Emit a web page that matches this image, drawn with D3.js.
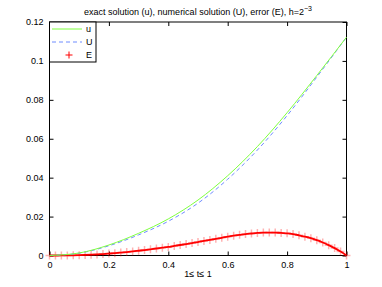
<!DOCTYPE html>
<html>
<head>
<meta charset="utf-8">
<script src="https://cdn.jsdelivr.net/npm/d3@7"></script>
<style>
  body { margin: 0; background: #fff; }
  text { font-family: "Liberation Sans", Arial, sans-serif; font-size: 9px; fill: #000; }
</style>
</head>
<body>
<div id="chart"></div>
<script>
// exact solution u, numerical solution U
const tGrid = [0, 0.1, 0.2, 0.3, 0.4, 0.5, 0.6, 0.7, 0.8, 0.9, 1.0];
const uVals = [0, 0.0013, 0.0054, 0.0114, 0.0188, 0.0285, 0.0410, 0.0560, 0.0734, 0.0925, 0.1122];
const UVals = [0, 0.0012, 0.0050, 0.0106, 0.0176, 0.0269, 0.0392, 0.0542, 0.0719, 0.0917, 0.1122];

// error E, sampled finer
const tErr = [0, 0.02, 0.04, 0.06, 0.08, 0.10, 0.12, 0.14, 0.16, 0.18, 0.20, 0.22, 0.24, 0.26, 0.28,
  0.30, 0.32, 0.34, 0.36, 0.38, 0.40, 0.42, 0.44, 0.46, 0.48, 0.50, 0.52, 0.54, 0.56, 0.58,
  0.60, 0.62, 0.64, 0.66, 0.68, 0.70, 0.72, 0.74, 0.76, 0.78, 0.80, 0.82, 0.84, 0.86, 0.88,
  0.90, 0.92, 0.94, 0.96, 0.98, 1.00];
const eVals = [0, 0.00001, 0.00002, 0.00005, 0.0001, 0.00018, 0.00028, 0.0004, 0.00055, 0.00075,
  0.00097, 0.0012, 0.00148, 0.00178, 0.0021, 0.00245, 0.0028, 0.0032, 0.0036, 0.0040,
  0.0044, 0.0049, 0.0054, 0.0059, 0.0064, 0.0069, 0.0075, 0.0080, 0.0086, 0.0091,
  0.0097, 0.0102, 0.0106, 0.0110, 0.0113, 0.0116, 0.0118, 0.0118, 0.0118, 0.0116,
  0.0114, 0.0110, 0.0104, 0.0097, 0.0089, 0.0079, 0.0067, 0.0053, 0.0038, 0.0020, 0];

const xTicks = [0, 0.2, 0.4, 0.6, 0.8, 1];
const yTicks = [0, 0.02, 0.04, 0.06, 0.08, 0.1, 0.12];
const legendLabels = ["u", "U", "E"];

const width = 382, height = 287;
const mLeft = 49.5, mRight = 346.5, mTop = 22, mBottom = 255.5;

const svg = d3.select("#chart").append("svg")
  .attr("width", width)
  .attr("height", height);

const x = d3.scaleLinear().domain([0, 1]).range([mLeft, mRight]);
const y = d3.scaleLinear().domain([0, 0.12]).range([mBottom, mTop]);

// ticks (inward, on all four sides)
svg.append("g").attr("transform", `translate(0,${mBottom})`)
  .call(d3.axisBottom(x).tickValues(xTicks).tickSize(-4).tickPadding(6).tickFormat(d3.format("")))
  .call(g => g.select(".domain").remove());
svg.append("g").attr("transform", `translate(0,${mTop})`)
  .call(d3.axisTop(x).tickValues(xTicks).tickSize(-4).tickFormat(""))
  .call(g => g.select(".domain").remove());
svg.append("g").attr("transform", `translate(${mLeft},0)`)
  .call(d3.axisLeft(y).tickValues(yTicks).tickSize(-4).tickPadding(6).tickFormat(d3.format("")))
  .call(g => g.select(".domain").remove());
svg.append("g").attr("transform", `translate(${mRight},0)`)
  .call(d3.axisRight(y).tickValues(yTicks).tickSize(-4).tickFormat(""))
  .call(g => g.select(".domain").remove());
svg.selectAll(".tick line").attr("stroke", "#000");
svg.selectAll(".tick text").style("font-size", "9px").attr("font-family", null);

// frame
svg.append("rect")
  .attr("x", mLeft).attr("y", mTop)
  .attr("width", mRight - mLeft).attr("height", mBottom - mTop)
  .attr("fill", "none").attr("stroke", "#000").attr("stroke-width", 1);

const line = d3.line()
  .x(d => x(d[0]))
  .y(d => y(d[1]))
  .curve(d3.curveMonotoneX);

// error E: markers + line
const errPts = tErr.map((t, i) => [t, eVals[i]]);
svg.append("g").selectAll("path.mk")
  .data(errPts)
  .join("path")
  .attr("class", "mk")
  .attr("d", "M-4,0H4M0,-4V4")
  .attr("transform", d => `translate(${x(d[0])},${y(d[1])})`)
  .attr("stroke", "#ff0000")
  .attr("stroke-opacity", 0.3)
  .attr("stroke-width", 1.5)
  .attr("fill", "none");

svg.append("path")
  .datum(errPts)
  .attr("d", line)
  .attr("fill", "none")
  .attr("stroke", "#ff0000")
  .attr("stroke-width", 1.8);

// U dashed
svg.append("path")
  .datum(tGrid.map((t, i) => [t, UVals[i]]))
  .attr("d", line)
  .attr("fill", "none")
  .attr("stroke", "#6f8cff")
  .attr("stroke-width", 1)
  .attr("stroke-dasharray", "4,3");

// u solid
svg.append("path")
  .datum(tGrid.map((t, i) => [t, uVals[i]]))
  .attr("d", line)
  .attr("fill", "none")
  .attr("stroke", "#7fff3f")
  .attr("stroke-width", 1);

// legend
const lg = svg.append("g");
lg.append("rect")
  .attr("x", mLeft).attr("y", mTop)
  .attr("width", 46.5).attr("height", 40)
  .attr("fill", "#fff").attr("stroke", "#000").attr("stroke-width", 1);
const rows = [29, 42, 55];
lg.append("line").attr("x1", 52).attr("x2", 82).attr("y1", rows[0]).attr("y2", rows[0])
  .attr("stroke", "#7fff3f");
lg.append("line").attr("x1", 52).attr("x2", 82).attr("y1", rows[1]).attr("y2", rows[1])
  .attr("stroke", "#6f8cff").attr("stroke-dasharray", "4,3");
lg.append("path").attr("d", `M65.5,${rows[2]}H72.5M69,${rows[2] - 3.5}V${rows[2] + 3.5}`)
  .attr("stroke", "#ff0000").attr("stroke-width", 1);
lg.selectAll("text.lab").data(legendLabels).join("text")
  .attr("class", "lab")
  .attr("x", 86)
  .attr("y", (d, i) => rows[i] + 3)
  .text(d => d);

// title
const title = svg.append("text")
  .attr("x", (mLeft + mRight) / 2)
  .attr("y", 15)
  .attr("text-anchor", "middle");
title.append("tspan").text("exact solution (u), numerical solution (U), error (E), h=2");
title.append("tspan").attr("dy", -4).style("font-size", "7px").text("\u22123");

// x label
svg.append("text")
  .attr("x", (mLeft + mRight) / 2)
  .attr("y", 277)
  .attr("text-anchor", "middle")
  .text("1\u2264 t\u2264 1");
</script>
</body>
</html>
